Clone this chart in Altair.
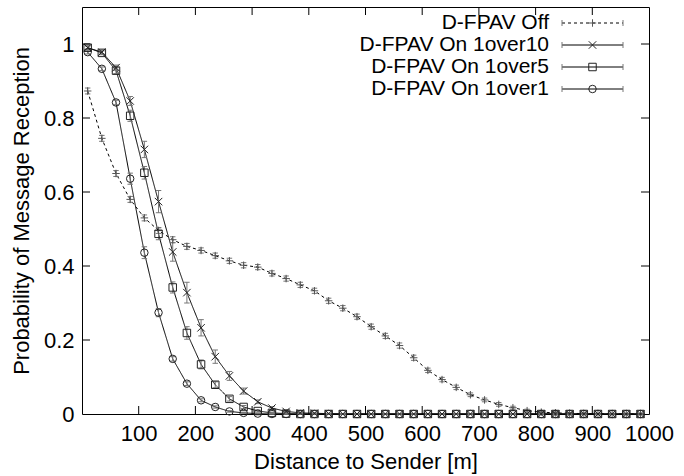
import altair as alt
import pandas as pd

FONT = "Liberation Sans"
FS = 22
LFS = 21

series_names = ["D-FPAV Off", "D-FPAV On 1over10", "D-FPAV On 1over5", "D-FPAV On 1over1"]

distance = [10, 35, 60, 85, 110, 135, 160, 185, 210, 235,
            260, 285, 310, 335, 360, 385, 410, 435, 460, 485,
            510, 535, 560, 585, 610, 635, 660, 685, 710, 735,
            760, 785, 810, 835, 860, 885, 910, 935, 960, 985]

off = [0.873, 0.745, 0.650, 0.580, 0.530, 0.496, 0.471, 0.453, 0.442, 0.428,
       0.414, 0.402, 0.397, 0.380, 0.366, 0.349, 0.333, 0.306, 0.286, 0.263,
       0.236, 0.211, 0.185, 0.152, 0.118, 0.093, 0.072, 0.052, 0.038, 0.026,
       0.017, 0.009, 0.005, 0.003, 0.002, 0.001, 0.001, 0.0, 0.0, 0.0]
off_err = [0.008, 0.008, 0.008, 0.008, 0.008, 0.008, 0.008, 0.008, 0.007, 0.007,
           0.007, 0.007, 0.007, 0.007, 0.007, 0.007, 0.007, 0.007, 0.007, 0.007,
           0.007, 0.007, 0.007, 0.007, 0.006, 0.006, 0.006, 0.005, 0.005, 0.005,
           0.004, 0.004, 0.003, 0.003, 0.002, 0.002, 0.001, 0.001, 0.001, 0.001]

on10 = [0.990, 0.978, 0.936, 0.846, 0.715, 0.574, 0.438, 0.328, 0.233, 0.155,
        0.103, 0.062, 0.033, 0.016, 0.007, 0.003, 0.002, 0.001, 0.0, 0.0,
        0.0, 0.0, 0.0, 0.0, 0.0, 0.0, 0.0, 0.0, 0.0, 0.0,
        0.0, 0.0, 0.0, 0.0, 0.0, 0.0, 0.0, 0.0, 0.0, 0.0]
on10_err = [0.005, 0.005, 0.007, 0.012, 0.022, 0.030, 0.025, 0.028, 0.022, 0.018,
            0.012, 0.008, 0.005, 0.004, 0.003, 0.002, 0.001, 0.001, 0.0, 0.0,
            0.0, 0.0, 0.0, 0.0, 0.0, 0.0, 0.0, 0.0, 0.0, 0.0,
            0.0, 0.0, 0.0, 0.0, 0.0, 0.0, 0.0, 0.0, 0.0, 0.0]

on5 = [0.990, 0.976, 0.928, 0.806, 0.652, 0.487, 0.342, 0.219, 0.134, 0.079,
       0.041, 0.019, 0.008, 0.003, 0.001, 0.0, 0.0, 0.0, 0.0, 0.0,
       0.0, 0.0, 0.0, 0.0, 0.0, 0.0, 0.0, 0.0, 0.0, 0.0,
       0.0, 0.0, 0.0, 0.0, 0.0, 0.0, 0.0, 0.0, 0.0, 0.0]
on5_err = [0.005, 0.005, 0.008, 0.015, 0.017, 0.016, 0.015, 0.017, 0.012, 0.008,
           0.006, 0.004, 0.003, 0.002, 0.001, 0.0, 0.0, 0.0, 0.0, 0.0,
           0.0, 0.0, 0.0, 0.0, 0.0, 0.0, 0.0, 0.0, 0.0, 0.0,
           0.0, 0.0, 0.0, 0.0, 0.0, 0.0, 0.0, 0.0, 0.0, 0.0]

on1 = [0.978, 0.933, 0.842, 0.636, 0.436, 0.274, 0.149, 0.082, 0.037, 0.019,
       0.007, 0.003, 0.001, 0.0, 0.0, 0.0, 0.0, 0.0, 0.0, 0.0,
       0.0, 0.0, 0.0, 0.0, 0.0, 0.0, 0.0, 0.0, 0.0, 0.0,
       0.0, 0.0, 0.0, 0.0, 0.0, 0.0, 0.0, 0.0, 0.0, 0.0]
on1_err = [0.005, 0.005, 0.006, 0.015, 0.016, 0.011, 0.006, 0.005, 0.004, 0.003,
           0.002, 0.001, 0.001, 0.0, 0.0, 0.0, 0.0, 0.0, 0.0, 0.0,
           0.0, 0.0, 0.0, 0.0, 0.0, 0.0, 0.0, 0.0, 0.0, 0.0,
           0.0, 0.0, 0.0, 0.0, 0.0, 0.0, 0.0, 0.0, 0.0, 0.0]

x_ticks = [100, 200, 300, 400, 500, 600, 700, 800, 900, 1000]
y_ticks = [0, 0.2, 0.4, 0.6, 0.8, 1.0]

rows = []
for name, vals, errs in zip(series_names, [off, on10, on5, on1],
                            [off_err, on10_err, on5_err, on1_err]):
    for d, v, e in zip(distance, vals, errs):
        rows.append(dict(series=name, dist=d, p=v, lo=max(v - e, 0.0), hi=v + e))
df = pd.DataFrame(rows)

X_TITLE = "Distance to Sender [m]"
Y_TITLE = "Probability of Message Reception"
xscale = alt.Scale(domain=[0, 1000], nice=False, zero=False)
yscale = alt.Scale(domain=[0, 1.1], nice=False, zero=False)
xaxis = alt.Axis(values=x_ticks, format="d", ticks=False, domain=False, grid=False,
                 labelOverlap=False, labelFlush=False,
                 labelPadding=9, titlePadding=7, labelFontSize=FS, titleFontSize=FS,
                 labelFont=FONT, titleFont=FONT, labelColor="black", titleColor="black",
                 titleFontWeight="normal")
yaxis = alt.Axis(values=y_ticks, format="~g", ticks=False, domain=False, grid=False,
                 labelOverlap=False, labelFlush=False,
                 labelPadding=8, titlePadding=10, labelFontSize=FS, titleFontSize=FS,
                 labelFont=FONT, titleFont=FONT, labelColor="black", titleColor="black",
                 titleFontWeight="normal")


def X(field):
    return alt.X(field, type="quantitative", scale=xscale, axis=xaxis, title=X_TITLE)


def Y(field):
    return alt.Y(field, type="quantitative", scale=yscale, axis=yaxis, title=Y_TITLE)


PLUS = "M-1,0L1,0M0,-1L0,1"
CROSS = "M-1,-1L1,1M-1,1L1,-1"
HBAR = "M-1,0L1,0"

shape_scale = alt.Scale(domain=series_names, range=[PLUS, CROSS, "square", "circle"])
color_scale = alt.Scale(domain=series_names, range=["#555555", "#222222", "#222222", "#222222"])
dash_scale = alt.Scale(domain=series_names, range=[[3, 3], [1, 0], [1, 0], [1, 0]])

base = alt.Chart(df)

lines = base.mark_line(color="black", strokeWidth=1).encode(
    x=X("dist"), y=Y("p"), detail="series:N",
    strokeDash=alt.StrokeDash("series:N", scale=dash_scale, legend=None),
)
err_rules = base.mark_rule(color="#777777", strokeWidth=1).encode(
    x=X("dist"), y=Y("lo"), y2="hi"
)
cap_lo = base.mark_point(shape=HBAR, size=30, filled=False, color="#777777",
                         strokeWidth=1, opacity=1).encode(x=X("dist"), y=Y("lo"))
cap_hi = base.mark_point(shape=HBAR, size=30, filled=False, color="#777777",
                         strokeWidth=1, opacity=1).encode(x=X("dist"), y=Y("hi"))
markers = base.mark_point(filled=False, strokeWidth=1, size=56, opacity=1).encode(
    x=X("dist"), y=Y("p"),
    shape=alt.Shape("series:N", scale=shape_scale, legend=None),
    color=alt.Color("series:N", scale=color_scale, legend=None),
)

# inward tick marks (gnuplot style) on all four sides
xt = pd.DataFrame({"t": x_ticks[:-1]})
yt = pd.DataFrame({"t": y_ticks[1:]})
tick_len_y = 8 / 407 * 1.1
tick_len_x = 8 / 567 * 1000
xt_bot = alt.Chart(xt).mark_rule(color="black").encode(
    x=X("t"), y=alt.datum(0), y2=alt.datum(tick_len_y))
xt_top = alt.Chart(xt).mark_rule(color="black").encode(
    x=X("t"), y=alt.datum(1.1), y2=alt.datum(1.1 - tick_len_y))
yt_left = alt.Chart(yt).mark_rule(color="black").encode(
    y=Y("t"), x=alt.datum(0), x2=alt.datum(tick_len_x))
yt_right = alt.Chart(yt).mark_rule(color="black").encode(
    y=Y("t"), x=alt.datum(1000), x2=alt.datum(1000 - tick_len_x))

# gnuplot-style key in the upper right
leg = pd.DataFrame({"series": series_names, "ly": [16, 38, 60, 82]})
leg["ly_a"] = leg["ly"] - 3
leg["ly_b"] = leg["ly"] + 3
LY = alt.Y("ly:Q", scale=None, axis=None)
lchart = alt.Chart(leg)
leg_text = lchart.mark_text(align="right", baseline="middle", fontSize=LFS, font=FONT,
                            color="black").encode(x=alt.value(467), y=LY, text="series:N")
leg_line = lchart.mark_rule(color="black", strokeWidth=1).encode(
    x=alt.value(480), x2=alt.value(541), y=LY,
    strokeDash=alt.StrokeDash("series:N", scale=dash_scale, legend=None))
leg_cap1 = lchart.mark_rule(color="#777777", strokeWidth=1).encode(
    x=alt.value(480), y=alt.Y("ly_a:Q", scale=None, axis=None), y2="ly_b:Q")
leg_cap2 = lchart.mark_rule(color="#777777", strokeWidth=1).encode(
    x=alt.value(541), y=alt.Y("ly_a:Q", scale=None, axis=None), y2="ly_b:Q")
leg_mark = lchart.mark_point(filled=False, strokeWidth=1, size=56, opacity=1).encode(
    x=alt.value(510.5), y=LY,
    shape=alt.Shape("series:N", scale=shape_scale, legend=None),
    color=alt.Color("series:N", scale=color_scale, legend=None),
)

chart = alt.layer(
    lines, err_rules, cap_lo, cap_hi, markers,
    xt_bot, xt_top, yt_left, yt_right,
    leg_line, leg_cap1, leg_cap2, leg_mark, leg_text,
).properties(
    width=567, height=407,
    autosize=alt.AutoSizeParams(type="none"),
    padding={"left": 82, "top": 7, "right": 35, "bottom": 62},
    background="white",
).configure_view(stroke="black", strokeWidth=1)

chart.save("out.html", embed_options={"renderer": "svg", "actions": False})
